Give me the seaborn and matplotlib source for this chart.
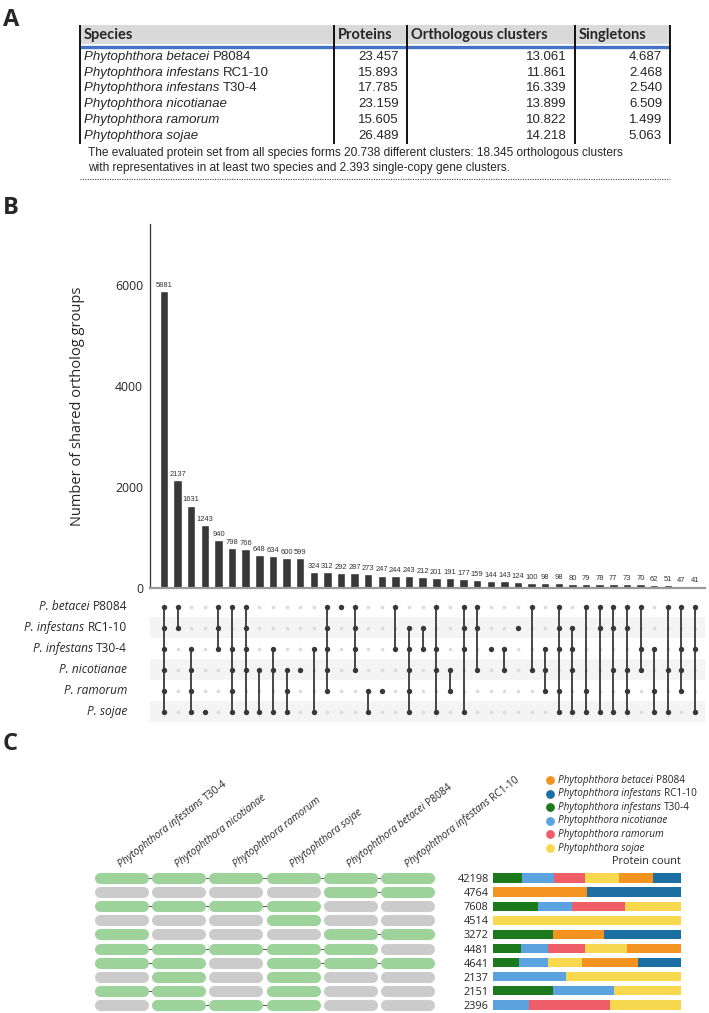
import numpy as np
import pandas as pd
import matplotlib
matplotlib.use("Agg")
import matplotlib.pyplot as plt
import matplotlib.transforms as mtransforms
from matplotlib.patches import Rectangle
import seaborn as sns

# ---------------- data ----------------
# panel A
tab_species = ["Phytophthora betacei", "Phytophthora infestans", "Phytophthora infestans",
               "Phytophthora nicotianae", "Phytophthora ramorum", "Phytophthora sojae"]
tab_strain = ["P8084", "RC1-10", "T30-4", "", "", ""]
tab_proteins = [23457, 15893, 17785, 23159, 15605, 26489]
tab_ortho = [13061, 11861, 16339, 13899, 10822, 14218]
tab_single = [4687, 2468, 2540, 6509, 1499, 5063]
tab_header = ["Species", "Proteins", "Orthologous clusters", "Singletons"]
tab_note = ["The evaluated protein set from all species forms 20.738 different clusters: 18.345 orthologous clusters",
            "with representatives in at least two species and 2.393 single-copy gene clusters."]

# panel B (upset)
set_codes = ["B", "R", "T", "N", "M", "S"]
set_short = ["P. betacei", "P. infestans", "P. infestans", "P. nicotianae", "P. ramorum", "P. sojae"]
set_strain = ["P8084", "RC1-10", "T30-4", "", "", ""]
inter_counts = [5881, 2137, 1631, 1243, 940, 798, 766, 648, 634, 600, 599, 324, 312, 292, 287,
                273, 247, 244, 243, 212, 201, 191, 177, 159, 144, 143, 124, 100, 98, 98,
                80, 79, 78, 77, 73, 70, 62, 51, 47, 41]
inter_sets = ["BRTNMS", "BR", "TNMS", "S", "BRT", "BTNMS", "BRTNS", "NS", "TNS", "NMS",
              "N", "TS", "BRTNM", "B", "BRTN", "MS", "M", "BT", "RTNMS", "RT",
              "BTNS", "NM", "BRTS", "BRN", "T", "TN", "R", "BN", "TNM", "BRTMS",
              "RTNS", "BMS", "BRS", "BRNS", "BRNMS", "BTN", "TMS", "BNS", "BTNM", "BTS"]

# panel C
c_genus = "Phytophthora"
c_epithet = ["infestans", "nicotianae", "ramorum", "sojae", "betacei", "infestans"]
c_strain = ["T30-4", "", "", "", "P8084", "RC1-10"]
c_codes = ["T", "N", "M", "S", "B", "R"]
c_rows = ["TNMSBR", "BR", "TNMS", "S", "TBR", "TNMSB", "TNSBR", "NS", "TNS", "NMS"]
c_totals = [42198, 4764, 7608, 4514, 3272, 4481, 4641, 2137, 2151, 2396]
c_prot_T = [6540, 0, 1830, 0, 1050, 670, 650, 0, 690, 0]
c_prot_N = [7170, 0, 1370, 0, 0, 630, 700, 830, 690, 455]
c_prot_M = [6960, 0, 2130, 0, 0, 900, 0, 0, 0, 1030]
c_prot_S = [7600, 0, 2278, 4514, 0, 985, 835, 1307, 771, 911]
c_prot_B = [7590, 2390, 0, 0, 880, 1296, 1392, 0, 0, 0]
c_prot_R = [6338, 2374, 0, 0, 1342, 0, 1064, 0, 0, 0]
legend_order = ["B", "R", "T", "N", "M", "S"]
legend_epithet = ["betacei", "infestans", "infestans", "nicotianae", "ramorum", "sojae"]
legend_strain = ["P8084", "RC1-10", "T30-4", "", "", ""]
colors = {"B": "#f39420", "R": "#1b6fa3", "T": "#1c7a1c", "N": "#5ba3de", "M": "#ef5d68", "S": "#f7d84e"}

# ---------------- figure ----------------
sns.set_style("white")
plt.rcParams["font.family"] = ["Open Sans", "DejaVu Sans"]

W, H = 709, 1013
fig = plt.figure(figsize=(W / 100, H / 100), dpi=100)
renderer = fig.canvas.get_renderer()


def box(x0, y0, x1, y1):
    return [x0 / W, 1 - y1 / H, (x1 - x0) / W, (y1 - y0) / H]


def mixed(ax, x, y, parts, ha="left", rotation=0, gap=0.28, transform=None, **kw):
    # draw text made of pieces with different styles (italic / normal)
    base = transform if transform is not None else ax.transData
    parts = [p for p in parts if p[0]]
    fs = kw.get("fontsize", 10)
    widths = []
    for s, st in parts:
        t = ax.text(x, y, s, style=st, transform=base, **kw)
        widths.append(t.get_window_extent(renderer).width)
        t.remove()
    sp = gap * fs * 100 / 72
    total = sum(widths) + sp * (len(parts) - 1)
    off = {"left": 0.0, "right": -total, "center": -total / 2}[ha]
    a = np.deg2rad(rotation)
    for (s, st), w in zip(parts, widths):
        tr = base + mtransforms.Affine2D().translate(off * np.cos(a), off * np.sin(a))
        ax.text(x, y, s, style=st, transform=tr, rotation=rotation,
                rotation_mode="anchor", ha="left", clip_on=False, **kw)
        off += w + sp


def dotted(v):
    return f"{v:,}".replace(",", ".")


# overlay axes in pixel units
ax0 = fig.add_axes([0, 0, 1, 1])
ax0.set_xlim(0, W)
ax0.set_ylim(H, 0)
ax0.axis("off")

for letter, yy in [("A", 8), ("B", 196), ("C", 732)]:
    ax0.text(3, yy, letter, fontsize=17, fontweight="bold", va="top", ha="left")

# ---- panel A table ----
col_edges = [80, 334, 407, 575, 670]
head_top, head_bot = 25, 44
row_y = [57 + 15.7 * i for i in range(len(tab_species))]
ax0.add_patch(Rectangle((col_edges[0], head_top), col_edges[-1] - col_edges[0], head_bot - head_top,
                        color="#d9d9d9", lw=0))
ax0.plot([col_edges[0], col_edges[-1]], [46.5, 46.5], color="#4472c4", lw=2.4, solid_capstyle="butt")
ax0.vlines(col_edges, head_top, row_y[-1] + 8, color="black", lw=1.3)
for j, h in enumerate(tab_header):
    ax0.text(col_edges[j] + 4, (head_top + head_bot) / 2 + 0.5, h, fontsize=10.5, fontweight="bold",
             family=["Lato", "DejaVu Sans"], va="center", ha="left")
for i, y in enumerate(row_y):
    mixed(ax0, col_edges[0] + 4, y, [(tab_species[i], "italic"), (tab_strain[i], "normal")],
          fontsize=9.5, family=["Liberation Sans"], va="center")
    for j, vals in enumerate([tab_proteins, tab_ortho, tab_single]):
        ax0.text(col_edges[j + 2] - 8, y, dotted(vals[i]), fontsize=9.5, family=["Liberation Sans"],
                 ha="right", va="center")
for k, line in enumerate(tab_note):
    ax0.text(88, 153 + 15 * k, line, fontsize=8.6, family=["Liberation Sans"], va="center")
ax0.plot([col_edges[0], col_edges[-1]], [179, 179], color="#444", lw=0.8, ls=(0, (1, 1.2)))

# ---- panel B bars ----
n = len(inter_counts)
px_per_col = 13.62
bx0, bx1 = 150, 705
xl = (-(164 - bx0) / px_per_col, n - 1 + (bx1 - 695) / px_per_col)
axb = fig.add_axes(box(bx0, 224, bx1, 588))
df_b = pd.DataFrame({"pos": [f"c{i}" for i in range(n)], "count": inter_counts})
sns.barplot(data=df_b, x="pos", y="count", color="#383838", saturation=1, width=0.62, ax=axb)
axb.bar_label(axb.containers[0], labels=[str(v) for v in inter_counts], fontsize=5.4, padding=1.5,
              color="#333", family=["Liberation Sans"])
axb.set_xlim(*xl)
axb.set_ylim(0, 7200)
axb.set_yticks([0, 2000, 4000, 6000])
axb.tick_params(axis="y", labelsize=8.8, length=3, width=0.8, color="#333", pad=2)
axb.set_xticks([])
axb.set_xlabel("")
axb.set_ylabel("Number of shared ortholog groups", fontsize=10.5)
axb.yaxis.set_label_coords(-0.118, 0.5)
for s in ["top", "right"]:
    axb.spines[s].set_visible(False)
axb.spines["left"].set_color("#333")
axb.spines["left"].set_linewidth(0.9)
axb.spines["bottom"].set_color("#9a9a9a")
axb.spines["bottom"].set_linewidth(1.6)

# ---- panel B matrix ----
axm = fig.add_axes(box(bx0, 596, bx1, 722))
axm.set_xlim(*xl)
axm.set_ylim(len(set_codes) - 0.5, -0.5)
axm.axis("off")
for r in [1, 3, 5]:
    axm.axhspan(r - 0.5, r + 0.5, color="#f4f4f4", lw=0, zorder=0)
recs = []
for c, members in enumerate(inter_sets):
    for r, code in enumerate(set_codes):
        recs.append({"col": c, "row": r, "on": code in members})
df_m = pd.DataFrame(recs)
sns.scatterplot(data=df_m[~df_m.on], x="col", y="row", color="#dcdcdc", s=7, linewidth=0, ax=axm, zorder=2)
on = df_m[df_m.on]
span = on.groupby("col")["row"].agg(["min", "max"]).reset_index()
axm.vlines(span["col"], span["min"], span["max"], color="#383838", lw=1.3, zorder=3)
sns.scatterplot(data=on, x="col", y="row", color="#383838", s=15, linewidth=0, ax=axm, zorder=4)
axm.set_xlim(*xl)
axm.set_ylim(len(set_codes) - 0.5, -0.5)
lab_tr = mtransforms.blended_transform_factory(fig.transFigure, axm.transData)
for r in range(len(set_codes)):
    mixed(axm, 127 / W, r, [(set_short[r], "italic"), (set_strain[r], "normal")], ha="right",
          transform=lab_tr, fontsize=8.6, va="center")

# ---- panel C pills ----
c_step = 57.3
px0 = 92.7
row_step = 14.1
cy0 = 878 - row_step / 2
axp = fig.add_axes(box(px0, cy0, px0 + 6 * c_step, cy0 + 10 * row_step))
axp.set_xlim(-0.5, 5.5)
axp.set_ylim(9.5, -0.5)
axp.axis("off")
half = 21.5 / c_step
for r, members in enumerate(c_rows):
    on_cols = [code in members for code in c_codes]
    for j in range(len(c_codes) - 1):
        if on_cols[j] and on_cols[j + 1]:
            axp.plot([j, j + 1], [r, r], color="#555", lw=0.7, zorder=1)
    for j, flag in enumerate(on_cols):
        axp.plot([j - half, j + half], [r, r], color="#9dd29b" if flag else "#cbcbcb",
                 lw=8.0, solid_capstyle="round", zorder=2)
for j in range(len(c_codes)):
    mixed(axp, j, -0.5 - 3 / row_step, [(c_genus + " " + c_epithet[j], "italic"), (c_strain[j], "normal")],
          rotation=38, fontsize=7.4, va="baseline")

# ---- panel C stacked bars ----
axs = fig.add_axes(box(493, cy0, 681, cy0 + 10 * row_step))
prot = pd.DataFrame({"T": c_prot_T, "N": c_prot_N, "M": c_prot_M, "S": c_prot_S, "B": c_prot_B, "R": c_prot_R})
frac = prot.div(prot.sum(axis=1), axis=0)
left = np.zeros(len(frac))
for code in c_codes:
    axs.barh(np.arange(len(frac)), frac[code], left=left, height=0.66, color=colors[code], lw=0)
    left += frac[code].values
axs.set_xlim(0, 1)
axs.set_ylim(9.5, -0.5)
axs.set_yticks(range(len(c_totals)), labels=[str(v) for v in c_totals])
axs.tick_params(axis="y", length=0, labelsize=7.8, pad=3)
axs.set_xticks([])
for s in axs.spines.values():
    s.set_visible(False)
axs.text(1.0, -0.75, "Protein count", transform=axs.transData, ha="right", va="bottom", fontsize=7.8)

# legend
for k, code in enumerate(legend_order):
    y = 780 + 13.6 * k
    ax0.scatter([550], [y], s=40, color=colors[code], lw=0)
    mixed(ax0, 558, y, [(c_genus + " " + legend_epithet[k], "italic"), (legend_strain[k], "normal")],
          fontsize=7.2, va="center")

fig.savefig("out.png", dpi=100)
